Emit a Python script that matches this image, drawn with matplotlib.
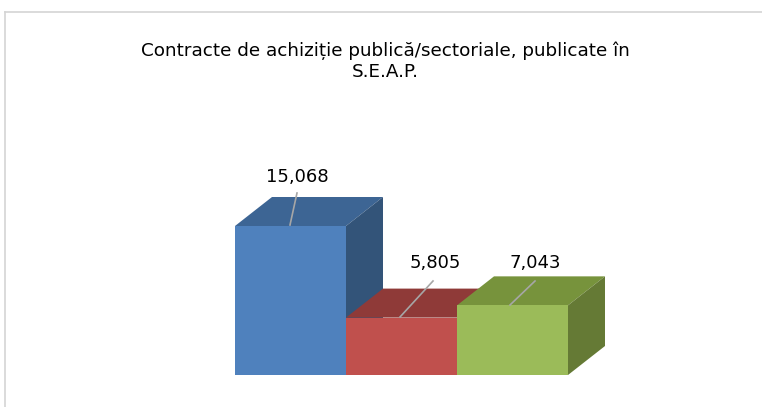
import matplotlib.pyplot as plt
from matplotlib.patches import Polygon

# Data
categories = ['A', 'B', 'C']
values = [15068, 5805, 7043]
labels = ['15,068', '5,805', '7,043']
front_colors = ['#4F81BD', '#C0504D', '#9BBB59']
top_colors = ['#3D6594', '#8F3A38', '#77933C']
side_colors = ['#335479', '#7A302E', '#657A35']

W, H = 762, 407
fig = plt.figure(figsize=(W / 100, H / 100), dpi=100)

# frame (only top and left edges are visible in the crop)
fig.add_artist(plt.Line2D([5 / W, 1], [1 - 12 / H, 1 - 12 / H], color='#D4D4D4', lw=1.2))
fig.add_artist(plt.Line2D([5 / W, 5 / W], [0, 1 - 12 / H], color='#D4D4D4', lw=1.2))

fig.text(385 / W, 1 - 51 / H, 'Contracte de achiziție publică/sectoriale, publicate în',
         ha='center', va='center', fontsize=13.2, family='DejaVu Sans Condensed')
fig.text(385 / W, 1 - 72 / H, 'S.E.A.P.',
         ha='center', va='center', fontsize=13.2, family='DejaVu Sans Condensed')

# axes covering the plot area: front faces from x=235 to 568, baseline y=375
x0, x1 = 235, 605
y0, y1 = 375, 100
ax = fig.add_axes([x0 / W, 1 - y0 / H, (x1 - x0) / W, (y0 - y1) / H])
px_per_unit = 149 / 15068
ymax = (y0 - y1) / px_per_unit
bar_w = 1.0
xmax = (x1 - x0) / 111.0
ax.set_xlim(0, xmax)
ax.set_ylim(0, ymax)
ax.axis('off')

dx = 37 / 111.0          # depth offset in category units
dy = 29 / px_per_unit    # depth offset in value units

for i, v in enumerate(values):
    x = i
    z = 3 * i
    ax.bar(x, v, width=bar_w, align='edge', color=front_colors[i], zorder=z + 2,
           edgecolor='none')
    top = Polygon([(x, v), (x + bar_w, v), (x + bar_w + dx, v + dy), (x + dx, v + dy)],
                  closed=True, facecolor=top_colors[i], edgecolor='none', zorder=z + 1)
    side = Polygon([(x + bar_w, 0), (x + bar_w + dx, dy), (x + bar_w + dx, v + dy), (x + bar_w, v)],
                   closed=True, facecolor=side_colors[i], edgecolor='none', zorder=z + 1)
    ax.add_patch(top)
    ax.add_patch(side)

# labels with leader lines
label_pos = [(297, 177), (435, 263), (535, 263)]
line_start = [(297, 193), (433, 281), (535, 281)]
line_end = [(290, 225), (400, 317), (510, 305)]


def to_data(px, py):
    return ((px - x0) / 111.0, (y0 - py) / px_per_unit)


for i, lab in enumerate(labels):
    lx, ly = to_data(*label_pos[i])
    ax.text(lx, ly, lab, ha='center', va='center', fontsize=13,
            family='DejaVu Sans Condensed', zorder=20, clip_on=False)
    sx, sy = to_data(*line_start[i])
    ex, ey = to_data(*line_end[i])
    ax.plot([sx, ex], [sy, ey], color='#A6A6A6', lw=1.2, zorder=20, clip_on=False)

fig.savefig('out.png', dpi=100)
